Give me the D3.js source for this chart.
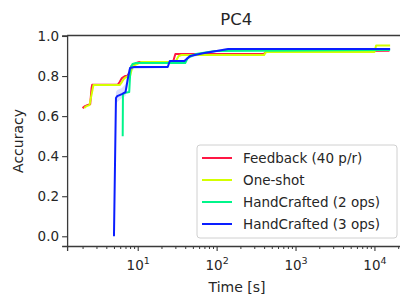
<!DOCTYPE html>
<html>
<head>
<meta charset="utf-8">
<title>PC4</title>
<style>
  body { margin: 0; background: #fff; }
  text { font-family: "DejaVu Sans", sans-serif; fill: #262626; }
</style>
</head>
<body>
<script src="https://d3js.org/d3.v7.min.js"></script>
<script>
// series: time [s] and accuracy
var fbTime = [2.0, 2.15, 2.3, 2.5, 2.6, 2.65, 5.6, 5.9, 6.3, 6.9, 7.3, 8.0, 8.3, 9.6, 10.5, 28, 30, 32, 400, 430, 15500];
var fbAcc  = [0.64, 0.65, 0.655, 0.66, 0.74, 0.757, 0.757, 0.77, 0.79, 0.80, 0.80, 0.82, 0.85, 0.865, 0.87, 0.87, 0.91, 0.91, 0.912, 0.922, 0.926];

var osTime = [2.1, 2.25, 2.45, 2.7, 2.75, 5.9, 6.3, 6.8, 7.5, 8.0, 8.6, 9.8, 11, 30, 33, 36, 400, 420, 10000, 10500, 15800];
var osAcc  = [0.64, 0.65, 0.655, 0.74, 0.755, 0.755, 0.77, 0.79, 0.80, 0.80, 0.85, 0.86, 0.87, 0.87, 0.90, 0.905, 0.905, 0.92, 0.92, 0.952, 0.952];

var hc2Time = [6.45, 6.5, 6.8, 7.8, 8.1, 8.6, 9.5, 40, 43, 48, 55, 95, 15800];
var hc2Acc  = [0.50, 0.71, 0.715, 0.72, 0.84, 0.86, 0.865, 0.865, 0.89, 0.90, 0.91, 0.925, 0.93];

var hc3Time = [5.0, 5.3, 5.5, 6.3, 7.0, 7.6, 8.0, 9.0, 24, 25.5, 39, 46, 70, 100, 140, 15800];
var hc3Acc  = [0.0, 0.69, 0.70, 0.71, 0.72, 0.80, 0.84, 0.845, 0.845, 0.875, 0.875, 0.90, 0.915, 0.925, 0.935, 0.935];
var hc3Lo   = [0.0, 0.64, 0.67, 0.69, 0.70, 0.76, 0.82, 0.835, 0.84, 0.865, 0.87, 0.89, 0.91, 0.92, 0.93, 0.93];
var hc3Hi   = [0.0, 0.72, 0.73, 0.74, 0.76, 0.83, 0.85, 0.85, 0.85, 0.88, 0.88, 0.91, 0.92, 0.93, 0.94, 0.94];

var names = ["Feedback (40 p/r)", "One-shot", "HandCrafted (2 ops)", "HandCrafted (3 ops)"];
var colors = ["#ff1744", "#d4ff00", "#00f58a", "#0a1eff"];

var yTicks = [0.0, 0.2, 0.4, 0.6, 0.8, 1.0];
var xTicks = [10, 100, 1000, 10000];
var xExps = ["1", "2", "3", "4"];

var W = 400, H = 297;
var x = d3.scaleLog().domain([Math.pow(10, 0.105), Math.pow(10, 4.395)]).range([67.1, 405.6]);
var y = d3.scaleLinear().domain([-0.0485, 1.0025]).range([246, 35.5]);

var svg = d3.select("body").append("svg")
    .attr("width", W)
    .attr("height", H);

svg.append("defs").append("clipPath").attr("id", "clip")
  .append("rect")
    .attr("x", 67.1).attr("y", 35.5)
    .attr("width", 405.6 - 67.1).attr("height", 246 - 35.5);

var plot = svg.append("g").attr("clip-path", "url(#clip)");

// confidence band for the 3 ops series
var band = hc3Time.map(function(t, i) { return {t: t, lo: hc3Lo[i], hi: hc3Hi[i]}; });
plot.append("path")
    .datum(band)
    .attr("fill", colors[3])
    .attr("fill-opacity", 0.15)
    .attr("d", d3.area()
        .x(function(d) { return x(d.t); })
        .y0(function(d) { return y(d.lo); })
        .y1(function(d) { return y(d.hi); }));

var series = [
  {t: fbTime, a: fbAcc},
  {t: osTime, a: osAcc},
  {t: hc2Time, a: hc2Acc},
  {t: hc3Time, a: hc3Acc}
];

var line = d3.line()
    .x(function(d) { return x(d[0]); })
    .y(function(d) { return y(d[1]); });

series.forEach(function(s, k) {
  var pts = s.t.map(function(t, i) { return [t, s.a[i]]; });
  plot.append("path")
      .datum(pts)
      .attr("fill", "none")
      .attr("stroke", colors[k])
      .attr("stroke-width", 2)
      .attr("stroke-linejoin", "round")
      .attr("d", line);
});

// axes
var yAxis = svg.append("g")
    .attr("transform", "translate(67.1,0)")
    .call(d3.axisLeft(y).tickValues(yTicks).tickSize(5).tickFormat(d3.format(".1f")));

var minors = [];
[1, 10, 100, 1000, 10000].forEach(function(p) {
  for (var m = 2; m <= 9; m++) minors.push(m * p);
});
svg.append("g")
    .attr("transform", "translate(0,246)")
    .call(d3.axisBottom(x).tickValues(minors).tickSize(3).tickFormat(""))
    .call(function(g) { g.select(".domain").remove(); });

var xAxis = svg.append("g")
    .attr("transform", "translate(0,246)")
    .call(d3.axisBottom(x).tickValues(xTicks).tickSize(5).tickFormat(""));

xAxis.selectAll(".tick text").remove();
xAxis.selectAll(".tick").each(function(d, i) {
  var t = d3.select(this).append("text")
      .attr("y", 24)
      .attr("text-anchor", "middle")
      .style("font-size", "13.5px");
  t.append("tspan").text("10");
  t.append("tspan").attr("dy", -6).style("font-size", "9.5px").text(xExps[i]);
});

[yAxis, xAxis].forEach(function(g) {
  g.selectAll("text").style("fill", "#262626").style("font-family", "DejaVu Sans");
  g.select(".domain").attr("stroke", "#3a3a3a").attr("stroke-width", 1.3);
  g.selectAll(".tick line").attr("stroke", "#3a3a3a").attr("stroke-width", 1.1);
});
svg.selectAll(".tick line").attr("stroke", "#3a3a3a");
yAxis.selectAll(".tick text").style("font-size", "13.5px").attr("x", -8);

// top spine
svg.append("line")
    .attr("x1", 67.1).attr("x2", 405.6)
    .attr("y1", 35.5).attr("y2", 35.5)
    .attr("stroke", "#3a3a3a").attr("stroke-width", 1.3);

// title and labels
svg.append("text")
    .attr("x", 236.3).attr("y", 25)
    .attr("text-anchor", "middle")
    .style("font-size", "16.5px")
    .text("PC4");

svg.append("text")
    .attr("x", 237).attr("y", 292)
    .attr("text-anchor", "middle")
    .style("font-size", "14px")
    .text("Time [s]");

svg.append("text")
    .attr("transform", "translate(23,141) rotate(-90)")
    .attr("text-anchor", "middle")
    .style("font-size", "14px")
    .text("Accuracy");

// legend
var leg = svg.append("g").attr("transform", "translate(197,145)");
leg.append("rect")
    .attr("width", 200).attr("height", 93)
    .attr("rx", 3)
    .attr("fill", "#fff").attr("fill-opacity", 0.85)
    .attr("stroke", "#d0d0d0");

names.forEach(function(n, i) {
  var gy = 13 + i * 22;
  leg.append("line")
      .attr("x1", 5).attr("x2", 35)
      .attr("y1", gy).attr("y2", gy)
      .attr("stroke", colors[i]).attr("stroke-width", 2);
  leg.append("text")
      .attr("x", 46).attr("y", gy + 5)
      .style("font-size", "13.5px")
      .text(n);
});
</script>
</body>
</html>
